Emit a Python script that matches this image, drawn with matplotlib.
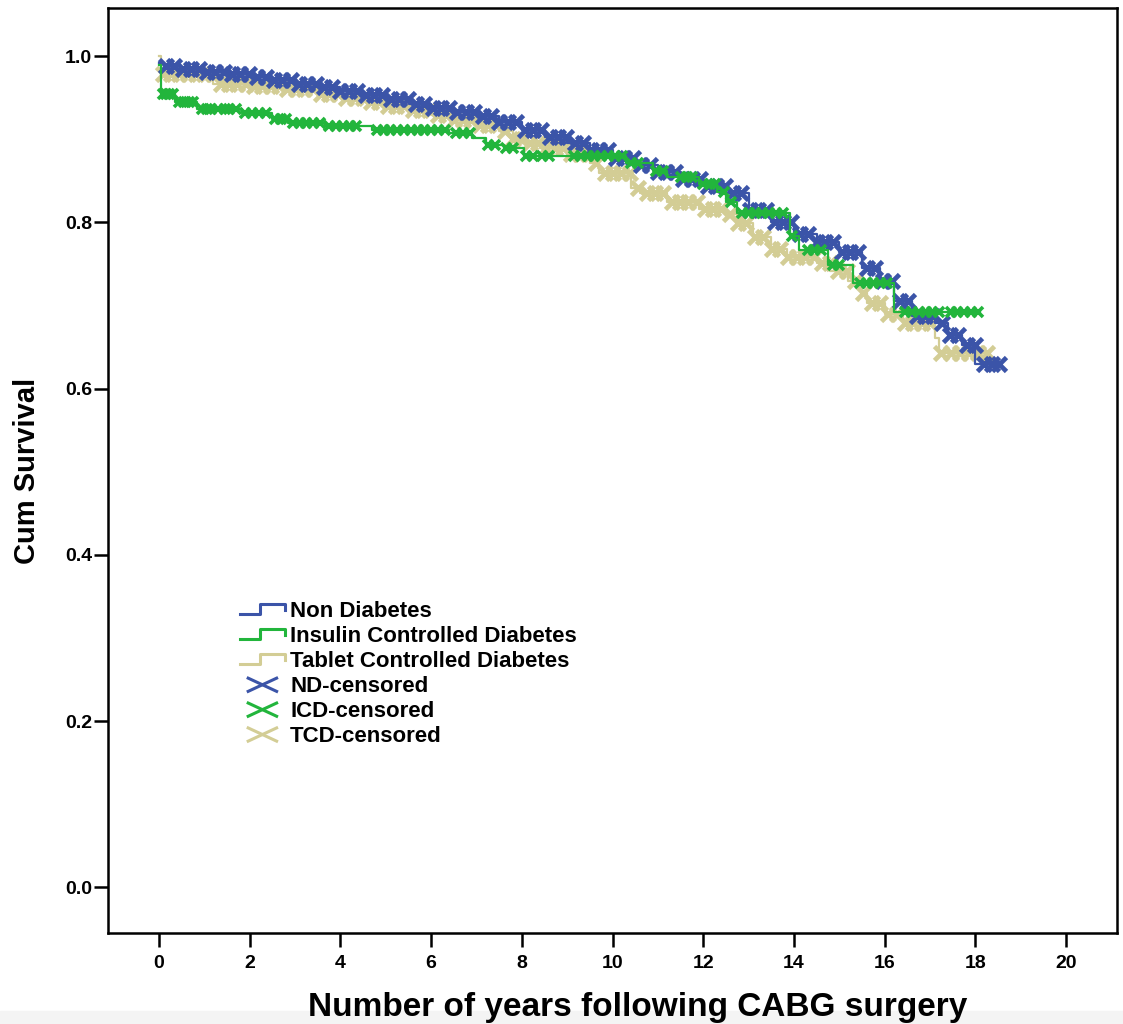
import numpy as np
import matplotlib
matplotlib.use("Agg")
import matplotlib.pyplot as plt
from matplotlib.lines import Line2D
from matplotlib.legend_handler import HandlerBase
from matplotlib.patches import Rectangle

# Kaplan-Meier step knots (years, cumulative survival)
nd_t = [0.0, 0.1, 0.4, 1.0, 1.5, 2.0, 2.5, 3.0, 3.5, 4.0, 4.5, 5.0, 5.5, 6.0, 6.5,
        7.0, 7.5, 8.0, 8.5, 9.0, 9.5, 10.0, 10.5, 11.0, 11.5, 12.0, 12.5, 13.0,
        13.5, 14.0, 14.5, 15.0, 15.5, 15.9, 16.2, 16.6, 17.1, 17.4, 17.7, 18.0]
nd_s = [0.992, 0.988, 0.985, 0.981, 0.978, 0.975, 0.971, 0.967, 0.963, 0.958,
        0.953, 0.948, 0.943, 0.938, 0.933, 0.928, 0.921, 0.911, 0.903, 0.895,
        0.887, 0.878, 0.869, 0.861, 0.852, 0.844, 0.835, 0.815, 0.800, 0.786,
        0.777, 0.765, 0.745, 0.730, 0.706, 0.688, 0.679, 0.664, 0.652, 0.630]
nd_end = 18.55

icd_t = [0.0, 0.05, 0.35, 0.84, 1.83, 2.5, 2.85, 3.66, 4.7, 6.4, 6.9, 7.2, 7.6,
         8.05, 10.3, 10.9, 11.2, 11.9, 12.3, 12.5, 12.75, 13.9, 14.1, 14.75,
         15.3, 16.2]
icd_s = [0.99, 0.955, 0.945, 0.936, 0.932, 0.925, 0.920, 0.916, 0.911, 0.907,
         0.902, 0.893, 0.889, 0.880, 0.872, 0.862, 0.855, 0.846, 0.837, 0.825,
         0.811, 0.784, 0.767, 0.749, 0.727, 0.692]
icd_end = 18.1

tcd_t = [0.0, 0.05, 1.2, 2.0, 2.8, 3.5, 4.0, 4.5, 5.0, 5.5, 6.0, 6.5, 7.0, 7.5,
         7.8, 8.0, 8.4, 9.0, 9.5, 9.7, 10.4, 10.6, 11.2, 11.9, 12.5, 12.75,
         13.1, 13.5, 13.85, 14.5, 14.8, 15.2, 15.5, 15.6, 16.0, 16.4, 17.1, 17.2]
tcd_s = [1.0, 0.978, 0.966, 0.964, 0.960, 0.955, 0.950, 0.945, 0.940, 0.935,
         0.929, 0.923, 0.917, 0.910, 0.900, 0.895, 0.889, 0.882, 0.872, 0.860,
         0.842, 0.835, 0.825, 0.816, 0.810, 0.799, 0.783, 0.768, 0.758, 0.751,
         0.741, 0.730, 0.715, 0.703, 0.690, 0.679, 0.661, 0.643]
tcd_end = 18.3

# censoring times (years)
nd_cens = [0.15, 0.33, 0.52, 0.70, 0.88, 1.05, 1.24, 1.43, 1.60, 1.79, 1.98, 2.16,
           2.35, 2.53, 2.72, 2.90, 3.08, 3.27, 3.45, 3.64, 3.82, 4.00, 4.19, 4.37,
           4.56, 4.74, 4.92, 5.11, 5.30, 5.48, 5.66, 5.85, 6.03, 6.22, 6.40, 6.58,
           6.77, 6.95, 7.14, 7.32, 7.50, 7.69, 7.87, 8.06, 8.24, 8.42, 8.61, 8.79,
           8.98, 9.16, 9.34, 9.53, 9.71, 9.90, 10.08, 10.26, 10.45, 10.63, 10.82,
           11.00, 11.18, 11.37, 11.55, 11.74, 11.92, 12.10, 12.29, 12.47, 12.66,
           12.84, 13.02, 13.21, 13.39, 13.58, 13.76, 13.94, 14.13, 14.31, 14.50,
           14.68, 14.86, 15.05, 15.23, 15.42, 15.60, 15.78, 15.97, 16.15, 16.34,
           16.52, 16.70, 16.89, 17.07, 17.26, 17.44, 17.62, 17.81, 17.99, 18.18,
           18.36, 18.52]
icd_cens = [0.08, 0.15, 0.22, 0.30, 0.45, 0.55, 0.65, 0.75, 0.95, 1.05, 1.15, 1.3,
            1.45, 1.55, 1.7, 1.9, 2.05, 2.2, 2.35, 2.55, 2.7, 2.8, 2.95, 3.1, 3.25,
            3.4, 3.55, 3.75, 3.9, 4.05, 4.2, 4.35, 4.8, 4.95, 5.1, 5.25, 5.4, 5.55,
            5.7, 5.85, 6.0, 6.15, 6.3, 6.55, 6.7, 6.85, 7.25, 7.4, 7.65, 7.8, 8.1,
            8.25, 8.45, 8.6, 9.15, 9.3, 9.45, 9.6, 9.75, 9.9, 10.05, 10.2, 10.4,
            10.55, 10.95, 11.1, 11.5, 11.65, 11.75, 12.0, 12.15, 12.25, 12.45, 12.6,
            12.85, 13.0, 13.15, 13.3, 13.45, 13.6, 13.75, 13.95, 14.3, 14.45, 14.6,
            14.85, 15.0, 15.45, 15.6, 15.75, 15.9, 16.05, 16.45, 16.6, 16.75, 16.9,
            17.05, 17.2, 17.45, 17.6, 17.75, 17.9, 18.05]
tcd_cens = [0.08, 0.26, 0.45, 0.63, 0.81, 0.99, 1.18, 1.36, 1.55, 1.73, 1.91, 2.10,
            2.28, 2.47, 2.65, 2.83, 3.02, 3.20, 3.39, 3.57, 3.75, 3.94, 4.12, 4.31,
            4.49, 4.67, 4.86, 5.04, 5.23, 5.41, 5.59, 5.78, 5.96, 6.15, 6.33, 6.51,
            6.70, 6.88, 7.07, 7.25, 7.43, 7.62, 7.80, 7.99, 8.17, 8.35, 8.54, 8.72,
            8.91, 9.09, 9.27, 9.46, 9.64, 9.83, 10.01, 10.19, 10.38, 10.56, 10.75,
            10.93, 11.11, 11.30, 11.48, 11.67, 11.85, 12.03, 12.22, 12.40, 12.59,
            12.77, 12.95, 13.14, 13.32, 13.51, 13.69, 13.87, 14.06, 14.24, 14.43,
            14.61, 14.79, 14.98, 15.16, 15.35, 15.53, 15.71, 15.90, 16.08, 16.27,
            16.45, 16.63, 16.82, 17.00, 17.25, 17.45, 17.65, 17.85, 18.05, 18.25]

labels = ["Non Diabetes", "Insulin Controlled Diabetes", "Tablet Controlled Diabetes",
          "ND-censored", "ICD-censored", "TCD-censored"]
c_nd, c_icd, c_tcd = "#3b54a8", "#22b53c", "#d3cd95"

plt.rcParams['font.family'] = ['Liberation Sans', 'DejaVu Sans']
plt.rcParams['font.weight'] = 'bold'

fig = plt.figure(figsize=(11.23, 10.24), dpi=100)
fig.patches.append(Rectangle((0, 0), 1, 13 / 1024, transform=fig.transFigure,
                             color="#f4f4f4", zorder=-1))
ax = fig.add_axes([108 / 1123, 1 - 933 / 1024, 1009 / 1123, 925 / 1024])


def km(ax, t, s, end, cens, color, z, ms=9.5, mew=3.4):
	t = np.asarray(t)
	s = np.asarray(s)
	ax.step(np.append(t, end), np.append(s, s[-1]), where='post', color=color,
	        lw=1.6, zorder=z)
	idx = np.searchsorted(t, cens, side='right') - 1
	ax.plot(cens, s[idx], 'x', color=color, ms=ms, mew=mew, zorder=z + 0.5)


km(ax, tcd_t, tcd_s, tcd_end, tcd_cens, c_tcd, 2)
km(ax, nd_t, nd_s, nd_end, nd_cens, c_nd, 3)
km(ax, icd_t, icd_s, icd_end, icd_cens, c_icd, 4, ms=7, mew=2.6)

ax.set_xlim(-1.125, 21.12)
ax.set_ylim(-0.055, 1.058)
ax.set_xticks(range(0, 21, 2))
ax.set_yticks([0.0, 0.2, 0.4, 0.6, 0.8, 1.0])
ax.set_yticklabels(["%.1f" % v for v in [0.0, 0.2, 0.4, 0.6, 0.8, 1.0]])
ax.tick_params(direction='out', length=10, width=1.8, labelsize=14)
ax.tick_params(axis='x', pad=6)
ax.tick_params(axis='y', pad=1.5)
for sp in ax.spines.values():
	sp.set_linewidth(1.8)
ax.set_xlabel("Number of years following CABG surgery", fontsize=24,
              fontweight='bold', labelpad=14)
ax.xaxis.label.set_x(0.525)
ax.set_ylabel("Cum Survival", fontsize=21, fontweight='bold', labelpad=17)


class StepHandler(HandlerBase):
	def create_artists(self, legend, orig_handle, xdescent, ydescent, width,
	                   height, fontsize, trans):
		xs = np.array([0.0, 0.45, 0.45, 1.0, 1.0]) * width - xdescent
		ys = np.array([0.2, 0.2, 0.85, 0.85, 0.45]) * height - ydescent
		ln = Line2D(xs, ys, color=orig_handle.get_color(), lw=2.2)
		ln.set_transform(trans)
		return [ln]


class CrossHandler(HandlerBase):
	def create_artists(self, legend, orig_handle, xdescent, ydescent, width,
	                   height, fontsize, trans):
		x0, x1 = 0.18 * width - xdescent, 0.82 * width - xdescent
		y0, y1 = 0.05 * height - ydescent, 0.9 * height - ydescent
		a = Line2D([x0, x1], [y0, y1], color=orig_handle.get_color(), lw=2.2)
		b = Line2D([x0, x1], [y1, y0], color=orig_handle.get_color(), lw=2.2)
		a.set_transform(trans)
		b.set_transform(trans)
		return [a, b]


hs = [Line2D([], [], color=c) for c in (c_nd, c_icd, c_tcd)]
hc = [Line2D([], [], color=c, marker='x') for c in (c_nd, c_icd, c_tcd)]
hmap = {h: StepHandler() for h in hs}
hmap.update({h: CrossHandler() for h in hc})
leg = ax.legend(hs + hc, labels, handler_map=hmap, loc='upper left',
                bbox_to_anchor=(0.131, 0.3584), frameon=False, borderpad=0,
                borderaxespad=0, handlelength=2.0, handleheight=0.7,
                handletextpad=0.25, labelspacing=0.175,
                prop={'size': 16, 'weight': 'bold'})

fig.savefig("out.png", dpi=100)
